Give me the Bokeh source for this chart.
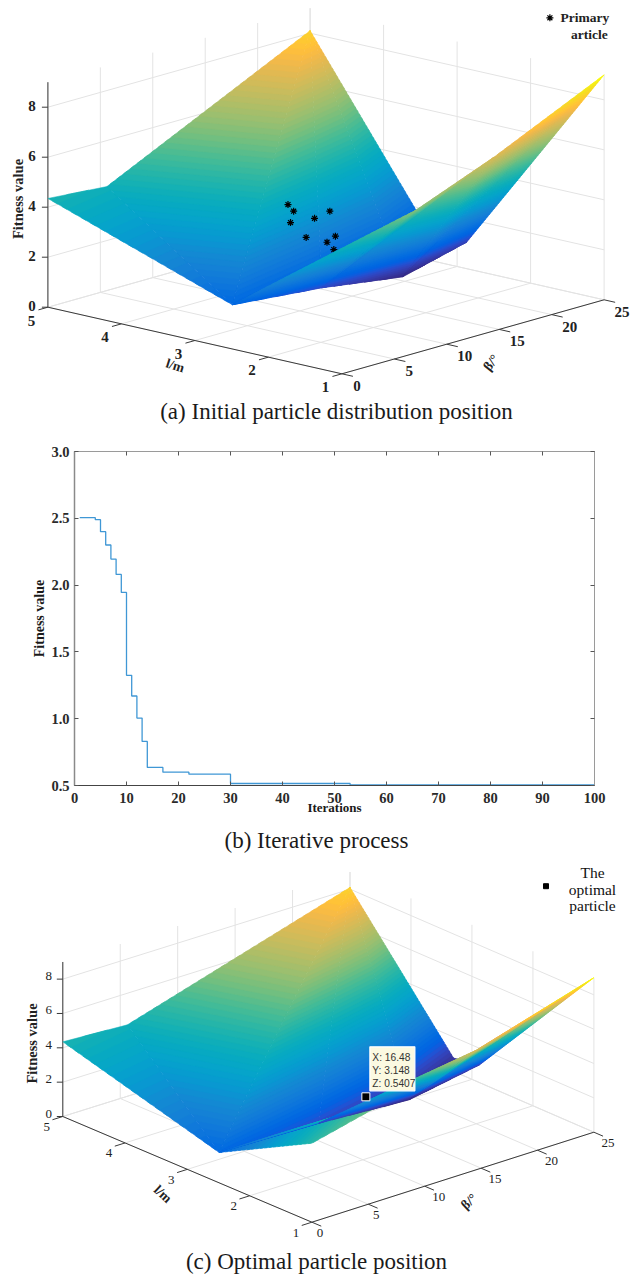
from bokeh.plotting import figure
from bokeh.layouts import column
from bokeh.embed import file_html
from bokeh.resources import INLINE
from bokeh.core.properties import value
from bokeh.models import Range1d, LinearAxis, FixedTicker, NumeralTickFormatter

# ---------- data: surface ----------
far_beta = [0, 5.63, 25]            # edge l = 5
far_z = [4.35, 4.16, 8.1]
far_l = 5
side_beta, side_l, side_z = 25, 3.3, 0.77   # kink on the edge beta = 25
valley_beta = [0, 9.65, 18.4, 25]
valley_l = [2.49, 2.65, 2.8, 2.87]
valley_z = [1.77, 1.2, 0.5, 1.06]
ridge_beta = [0, 7, 14.5, 25]       # edge l = 1
ridge_z = [4.6, 5.7, 6.95, 9.0]
ridge_l = 1

# particles of panel (a)
part_beta = [12.38, 12.92, 12.62, 14.91, 16.37, 14.11, 16.1, 16.9, 16.75, 18.2]
part_l = [3.5] * 10
part_z = [3.64, 3.31, 2.89, 2.79, 2.90, 2.12, 1.69, 1.84, 1.32, 1.11]

# optimal particle of panel (c)
best_beta, best_l, best_z = 16.48, 3.148, 0.5407

# ticks
beta_ticks = [0, 5, 10, 15, 20, 25]
l_ticks = [1, 2, 3, 4, 5]
z_ticks = [0, 2, 4, 6, 8]
z_top = 9

# panel (b)
iter_x = [1, 4, 5, 6, 7, 8, 9, 10, 11, 12, 13, 14, 17, 22, 30, 53, 100]
fit_y = [2.505, 2.49, 2.40, 2.30, 2.195, 2.08, 1.945, 1.325, 1.17, 1.005, 0.83, 0.635, 0.60, 0.585, 0.515, 0.505, 0.505]
iter_ticks = list(range(0, 101, 10))
fit_ticks = [0.5, 1.0, 1.5, 2.0, 2.5, 3.0]

captions = ["(a) Initial particle distribution position", "(b) Iterative process", "(c) Optimal particle position"]

PARULA = [(0.2081,0.1663,0.5292),(0.2116,0.1898,0.5777),(0.2123,0.2138,0.6270),(0.2081,0.2386,0.6771),(0.1959,0.2645,0.7279),(0.1707,0.2919,0.7792),(0.1253,0.3242,0.8303),(0.0591,0.3598,0.8683),(0.0117,0.3875,0.8820),(0.0060,0.4086,0.8828),(0.0165,0.4266,0.8786),(0.0329,0.4430,0.8720),(0.0498,0.4586,0.8641),(0.0629,0.4737,0.8554),(0.0723,0.4887,0.8467),(0.0779,0.5040,0.8384),(0.0793,0.5200,0.8312),(0.0749,0.5375,0.8263),(0.0641,0.5570,0.8240),(0.0488,0.5772,0.8228),(0.0343,0.5966,0.8199),(0.0265,0.6137,0.8135),(0.0239,0.6287,0.8038),(0.0231,0.6418,0.7913),(0.0228,0.6535,0.7767),(0.0267,0.6642,0.7607),(0.0384,0.6743,0.7436),(0.0590,0.6838,0.7254),(0.0843,0.6928,0.7062),(0.1133,0.7015,0.6859),(0.1453,0.7098,0.6646),(0.1801,0.7177,0.6424),(0.2178,0.7250,0.6193),(0.2586,0.7317,0.5954),(0.3022,0.7376,0.5712),(0.3482,0.7424,0.5473),(0.3953,0.7459,0.5244),(0.4420,0.7481,0.5033),(0.4871,0.7491,0.4840),(0.5300,0.7491,0.4661),(0.5709,0.7485,0.4494),(0.6099,0.7473,0.4337),(0.6473,0.7456,0.4188),(0.6834,0.7435,0.4044),(0.7184,0.7411,0.3905),(0.7525,0.7384,0.3768),(0.7858,0.7356,0.3633),(0.8185,0.7327,0.3498),(0.8507,0.7299,0.3360),(0.8824,0.7274,0.3217),(0.9139,0.7258,0.3063),(0.9450,0.7261,0.2886),(0.9739,0.7314,0.2666),(0.9938,0.7455,0.2403),(0.9990,0.7653,0.2164),(0.9955,0.7861,0.1967),(0.9880,0.8066,0.1794),(0.9789,0.8271,0.1633),(0.9697,0.8481,0.1475),(0.9626,0.8705,0.1309),(0.9589,0.8949,0.1132),(0.9598,0.9218,0.0948),(0.9661,0.9514,0.0755),(0.9763,0.9831,0.0538)]
PAL = ["#%02x%02x%02x" % tuple(int(round(c * 255)) for c in rgb) for rgb in PARULA]
Z_LO, Z_HI = min(valley_z), max(ridge_z)

SERIF = value("Liberation Serif")
SANS = value("Liberation Sans")
W = 630
CAP = 23


def triangles():
    far = [(b, far_l, z) for b, z in zip(far_beta, far_z)]
    val = list(zip(valley_beta, valley_l, valley_z))
    rid = [(b, ridge_l, z) for b, z in zip(ridge_beta, ridge_z)]
    side = (side_beta, side_l, side_z)
    main = [(far[0], far[1], val[0]), (far[1], far[2], val[0]), (val[0], far[2], val[1]),
            (val[1], far[2], val[2]), (val[2], far[2], side), (side, val[2], val[3])]
    lobe = []
    for i in range(len(val) - 1):
        lobe.append((val[i], rid[i], rid[i + 1]))
        lobe.append((val[i], rid[i + 1], val[i + 1]))
    return main, lobe


def clip(poly, zv, keep_above):
    out = []
    n = len(poly)
    for i in range(n):
        a, b = poly[i], poly[(i + 1) % n]
        ina = a[2] >= zv if keep_above else a[2] <= zv
        inb = b[2] >= zv if keep_above else b[2] <= zv
        if ina:
            out.append(a)
        if ina != inb:
            t = (zv - a[2]) / (b[2] - a[2])
            out.append(tuple(a[k] + t * (b[k] - a[k]) for k in range(3)))
    return out


def bands(tris):
    """each band overlaps the next one, which is painted over it"""
    polys, cols = [], []
    n = len(PAL)
    step = (Z_HI - Z_LO) / n
    for tri in tris:
        zs = [v[2] for v in tri]
        for k in range(n):
            lo, hi = Z_LO + k * step, Z_LO + (k + 1) * step
            if max(zs) < lo or min(zs) > hi:
                continue
            p = clip(list(tri), lo, True)
            if len(p) >= 3:
                p = clip(p, hi + 0.5 * step, False)
            if len(p) >= 3:
                polys.append(p)
                cols.append(PAL[k])
    return polys, cols


def make_proj(B, R, L, K, zu):
    """bilinear floor through its four corners plus a vertical z scale"""
    def pr(beta, l, z=0.0):
        u, v = beta / 25.0, (l - 1) / 4.0
        x = B[0] * (1 - u) * (1 - v) + R[0] * u * (1 - v) + L[0] * (1 - u) * v + K[0] * u * v
        y = B[1] * (1 - u) * (1 - v) + R[1] * u * (1 - v) + L[1] * (1 - u) * v + K[1] * u * v
        return x, y - zu * z
    return pr


def panel3d(top, bottom, pr, opts):
    p = figure(width=W, height=bottom - top, x_range=Range1d(0, W), y_range=Range1d(bottom, top),
               output_backend="svg", toolbar_location=None, min_border=0, outline_line_color=None,
               frame_align=False)
    p.axis.visible = False
    p.grid.visible = False

    def seg(a, b, color="#e3e3e3", w=1.0):
        p.line([a[0], b[0]], [a[1], b[1]], line_color=color, line_width=w)

    # walls and floor grid
    for b in beta_ticks:
        seg(pr(b, 1), pr(b, 5))
        seg(pr(b, 5), pr(b, 5, z_top))
    for l in l_ticks:
        seg(pr(0, l), pr(25, l))
        seg(pr(25, l), pr(25, l, z_top))
    for z in z_ticks:
        seg(pr(0, 5, z), pr(25, 5, z))
        seg(pr(25, 5, z), pr(25, 1, z))

    # axes
    ax = "#3a3a3a"
    seg(pr(0, 5), pr(0, 5, z_top), ax)
    seg(pr(0, 5), pr(0, 1), ax)
    seg(pr(0, 1), pr(25, 1), ax)
    for z in z_ticks:
        a = pr(0, 5, z)
        seg(a, (a[0] - 6, a[1]), ax)
    for l in l_ticks:
        a = pr(0, l)
        b = pr(-0.9, l)
        seg(a, b, ax)
    for b_ in beta_ticks:
        a = pr(b_, 1)
        b = pr(b_, 0.85)
        seg(a, b, ax)

    main, lobe = triangles()

    def draw(tris):
        polys, cols = bands(tris)
        xs, ys = [], []
        for poly in polys:
            q = [pr(*v) for v in poly]
            xs.append([c[0] for c in q])
            ys.append([c[1] for c in q])
        p.patches(xs, ys, fill_color=cols, line_color=cols, line_width=0.5)

    draw(main)
    if opts.get("stars"):
        q = [pr(b, l, z) for b, l, z in zip(part_beta, part_l, part_z)]
        p.scatter([c[0] for c in q], [c[1] for c in q], marker="asterisk", size=7,
                  line_color="#000000", line_width=1.2)
    draw(lobe)

    def txt(x, y, s, size, style="normal", angle=0.0, align="center", color="#222222", font=SERIF):
        p.text([x], [y], text=[s], text_font=font, text_font_size=f"{size}px", text_font_style=style,
               angle=angle, text_align=align, text_baseline="middle", text_color=color)

    fs, fw = opts["tick_size"], opts["tick_style"]
    for z in z_ticks:
        a = pr(0, 5, z)
        txt(a[0] + opts["zoff"][0], a[1] + opts["zoff"][1], str(z), fs, fw)
    for l in l_ticks:
        a = pr(0, l)
        txt(a[0] + opts["loff"][0], a[1] + opts["loff"][1], str(l), fs, fw)
    for b in beta_ticks:
        a = pr(b, 1)
        dx = opts["boff"][0] + (opts["boff2"] if b >= 10 else 0)
        txt(a[0] + dx, a[1] + opts["boff"][1], str(b), fs, fw)

    txt(*opts["zlabel"], "Fitness value", opts["zlabel_size"], "bold", angle=1.5708)
    txt(*opts["llabel"][:2], "l/m", opts["lab_size"], "bold", angle=opts["llabel"][2])
    txt(*opts["blabel"][:2], "β/°", opts["lab_size"], "bold", angle=opts["blabel"][2])
    txt(*opts["caption"][:2], opts["caption"][2], CAP, "normal", color="#1a1a1a")
    return p, txt


# ---------- panel (a) ----------
pr_a = make_proj((341.4, 373.3), (603.6, 299.3), (47.4, 306.7), (309.6, 232.7), 25.0)
pa, txta = panel3d(0, 430, pr_a, dict(
    stars=True, tick_size=15, tick_style="bold", zoff=(-16, -1), loff=(-16.5, 13.3), boff=(15, 12), boff2=3,
    zlabel=(17.5, 198.5), zlabel_size=14.5, llabel=(174.7, 365, -0.3), blabel=(490.5, 362, 0.9), lab_size=13.5,
    caption=(336, 411, captions[0])))
pa.scatter([549.4], [17.3], marker="asterisk", size=7, line_color="#000000", line_width=1.2)
txta(560, 17.3, "Primary", 13.5, "bold", align="left")
txta(570.5, 34, "article", 13.5, "bold", align="left")

# ---------- panel (b) ----------
pb = figure(width=W, height=394, x_range=Range1d(0, 100), y_range=Range1d(0.5, 3.0),
            output_backend="svg", toolbar_location=None, frame_align=False,
            min_border_left=74, min_border_right=36, min_border_top=21, min_border_bottom=39,
            x_axis_label="Iterations", y_axis_label="Fitness value", outline_line_color="#9a9a9a")
pb.grid.visible = False
pb.xaxis.ticker = FixedTicker(ticks=iter_ticks)
pb.yaxis.ticker = FixedTicker(ticks=fit_ticks)
pb.yaxis.formatter = NumeralTickFormatter(format="0.0")
for ax in (pb.xaxis[0], pb.yaxis[0]):
    ax.major_tick_in = 4
    ax.major_tick_out = 0
    ax.minor_tick_line_color = None
    ax.major_label_text_font = "Liberation Serif"
    ax.major_label_text_font_style = "bold"
    ax.major_label_text_font_size = "14.5px"
    ax.major_label_text_color = "#2a2a2a"
    ax.axis_label_text_font = "Liberation Serif"
    ax.axis_label_text_font_style = "bold"
    ax.axis_label_text_color = "#1a1a1a"
    ax.major_tick_line_color = "#555555"
pb.xaxis[0].axis_label_text_font_size = "13px"
pb.yaxis[0].axis_label_text_font_size = "14px"
pb.xaxis[0].axis_line_color = "#444444"
pb.yaxis[0].axis_line_color = "#8a8a8a"
pb.yaxis[0].axis_line_width = 1.5
pb.xaxis[0].major_label_standoff = 7
pb.xaxis[0].axis_label_standoff = -6
pb.yaxis[0].major_label_standoff = 5
pb.yaxis[0].axis_label_standoff = 1
for side, tk in (("above", iter_ticks), ("right", fit_ticks)):
    extra = LinearAxis(ticker=FixedTicker(ticks=tk), major_label_overrides={t: "" for t in tk},
                       major_tick_in=4, major_tick_out=0, minor_tick_line_color=None,
                       axis_line_color="#9a9a9a", major_tick_line_color="#555555",
                       major_label_text_font_size="1px")
    pb.add_layout(extra, side)
pb.step(iter_x, fit_y, mode="after", line_color="#3f97d5", line_width=1.3)

# caption strip of panel (b)
pbc = figure(width=W, height=36, x_range=Range1d(0, W), y_range=Range1d(860, 824),
             output_backend="svg", toolbar_location=None, min_border=0, outline_line_color=None,
             frame_align=False)
pbc.axis.visible = False
pbc.grid.visible = False
pbc.text([316], [840], text=[captions[1]], text_font=SERIF, text_font_size=f"{CAP}px",
         text_align="center", text_baseline="middle", text_color="#1a1a1a")

# ---------- panel (c) ----------
pr_c = make_proj((311.4, 1221.7), (593.4, 1131.7), (62.3, 1116), (349.5, 1026), 17.17)
pc, txtc = panel3d(860, 1274, pr_c, dict(
    stars=False, tick_size=13, tick_style="normal", zoff=(-14, -3), loff=(-16, 10.5), boff=(8, 11), boff2=6,
    zlabel=(31.5, 1043), zlabel_size=14.5, llabel=(162.5, 1193.5, -0.75), blabel=(468.5, 1201, 0.75), lab_size=13.5,
    caption=(316, 1261, captions[2])))
bx, by = pr_c(best_beta, best_l, best_z)
pc.quad(left=[bx + 4], right=[bx + 49], top=[by - 50], bottom=[by - 6], fill_color="#fbf9e1",
        line_color="#ffffff", line_width=1.2)
for i, s in enumerate([f"X: {best_beta}", f"Y: {best_l}", f"Z: {best_z}"]):
    txtc(bx + 6.5, by - 39 + i * 13, s, 10.2, color="#333333", align="left", font=SANS)
pc.scatter([bx], [by], marker="square", size=8, fill_color="#000000", line_color="#ffffff", line_width=1)
pc.scatter([545.5], [885.7], marker="square", size=5, fill_color="#000000", line_color="#000000")
for i, s in enumerate(["The", "optimal", "particle"]):
    txtc(592, 872 + i * 16.5, s, 15.5, "normal", color="#111111")

page = column(pa, pb, pbc, pc, spacing=0)
open("out.html", "w").write(file_html(page, INLINE))
